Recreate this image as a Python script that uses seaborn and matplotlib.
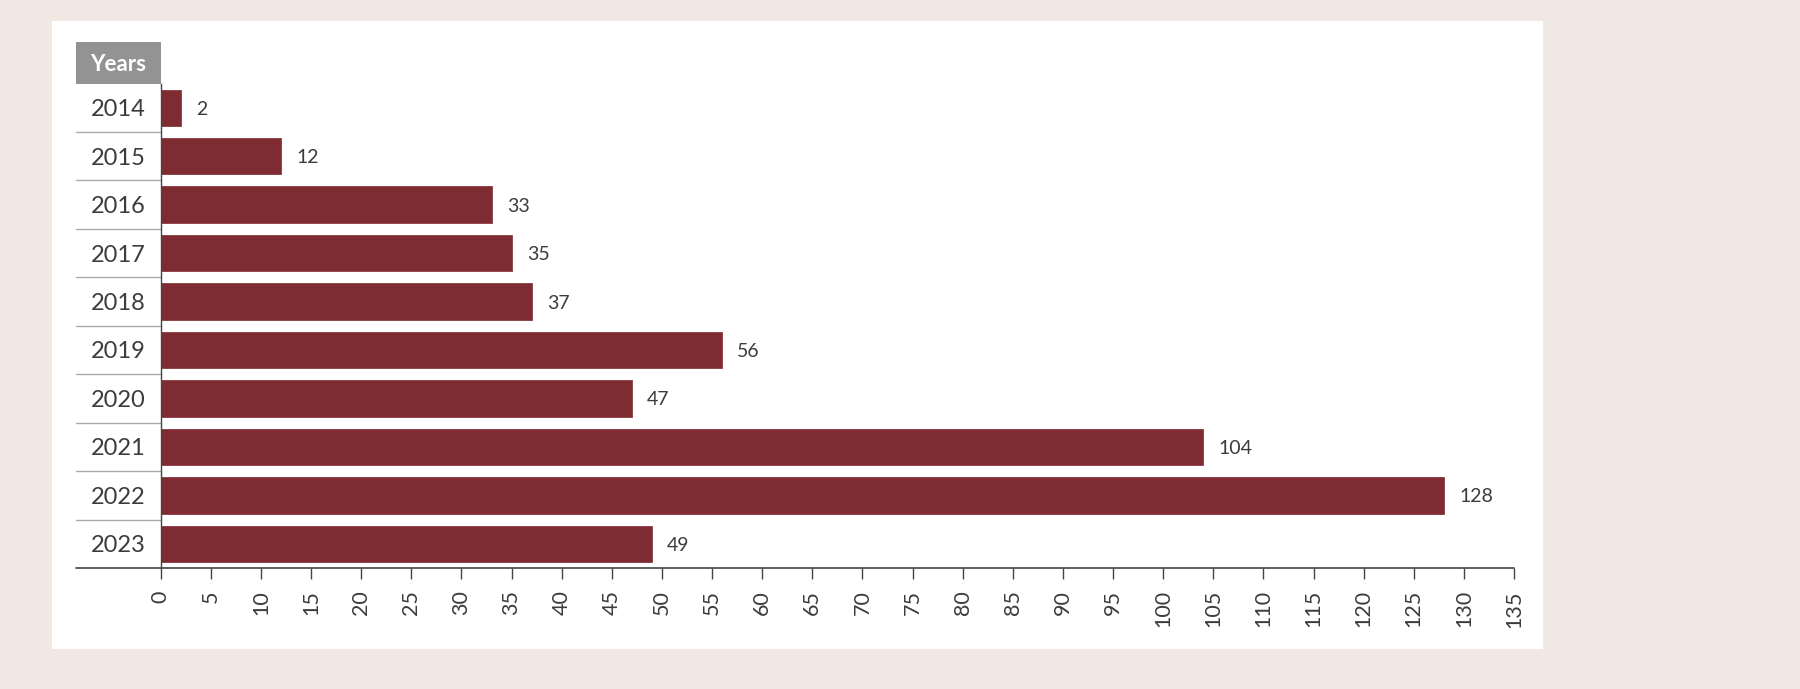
import matplotlib
matplotlib.use("Agg")
import matplotlib.pyplot as plt
import matplotlib.transforms as mtransforms
from matplotlib.patches import Rectangle
import seaborn as sns
import pandas as pd

years = ["2014", "2015", "2016", "2017", "2018", "2019", "2020", "2021", "2022", "2023"]
counts = [2, 12, 33, 35, 37, 56, 47, 104, 128, 49]
x_ticks = list(range(0, 136, 5))
header_label = "Years"

BAR = "#7e2b31"
BG = "#f2e8e3"
TXT = "#3c3c3c"

sns.set_theme(style="white")
plt.rcParams["font.family"] = ["Lato", "DejaVu Sans"]

df = pd.DataFrame({"year": years, "count": counts})

fig = plt.figure(figsize=(18, 6.89), dpi=100, facecolor=BG)
fig.patches.append(Rectangle((0.0289, 0.058), 0.8572 - 0.0289, 0.9695 - 0.058,
                             transform=fig.transFigure, facecolor="white",
                             edgecolor="none", zorder=-10))
ax = fig.add_axes([0.0893, 0.1756, 0.8411 - 0.0893, 0.8788 - 0.1756])
ax.set_facecolor("none")
ax.set_zorder(5)

sns.barplot(data=df, x="count", y="year", orient="h", color=BAR, width=0.75,
            saturation=1, ax=ax, edgecolor="#8a3a40", linewidth=0.6)

ax.set_xlim(0, 135)
ax.set_ylim(len(years) - 0.5, -0.5)
ax.set_xticks(x_ticks)
ax.set_xticklabels([str(t) for t in x_ticks], rotation=90, fontsize=15.5,
                   color=TXT)
ax.tick_params(axis="x", bottom=True, length=8, width=1, color="#444444", pad=8)
ax.tick_params(axis="y", left=False, length=0, pad=11)
for lab in ax.get_yticklabels():
    lab.set_fontsize(17)
    lab.set_color(TXT)
    lab.set_va("center_baseline")
ax.set_xlabel("")
ax.set_ylabel("")

for s in ["top", "right"]:
    ax.spines[s].set_visible(False)
ax.spines["left"].set_color("#444444")
ax.spines["left"].set_linewidth(1)
ax.spines["bottom"].set_visible(False)

left_ext = -0.0626
trans = mtransforms.blended_transform_factory(ax.transAxes, ax.transData)
for k in range(len(years) - 1):
    ax.plot([left_ext, 0], [k + 0.5, k + 0.5], transform=trans, color="#aaaaaa",
            lw=1, clip_on=False)
ax.plot([left_ext, 1], [0, 0], transform=ax.transAxes, color="#444444", lw=1.2,
        clip_on=False)

hdr_h = 0.0859
ax.add_patch(Rectangle((left_ext, 1.0), -left_ext, hdr_h, transform=ax.transAxes,
                       facecolor="#939393", edgecolor="none", clip_on=False))
ax.text(left_ext / 2, 1.0 + hdr_h / 2, header_label, transform=ax.transAxes,
        ha="center", va="center_baseline", color="white", fontsize=16,
        fontweight="bold")

for i, v in enumerate(counts):
    ax.annotate(str(v), (v, i), xytext=(11, 0), textcoords="offset points",
                ha="left", va="center_baseline", fontsize=14, color=TXT)

fig.savefig("out.png", dpi=100, facecolor=BG)
